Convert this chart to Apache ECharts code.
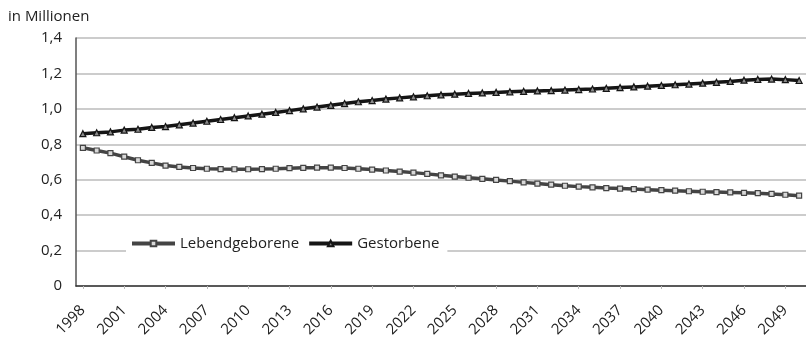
<!DOCTYPE html>
<html>
<head>
<meta charset="utf-8">
<script src="https://cdn.jsdelivr.net/npm/echarts@6/dist/echarts.min.js"></script>
<style>
  html, body { margin: 0; padding: 0; background: #fff; }
  #chart { width: 806px; height: 342px; }
</style>
</head>
<body>
<div id="chart"></div>
<script>
// Jahre 1998 - 2050
var years = [];
for (var y = 1998; y <= 2050; y++) years.push(String(y));

var lebendgeborene = [
  0.78, 0.765, 0.75, 0.73, 0.71, 0.695, 0.68, 0.672, 0.666, 0.662,
  0.66, 0.659, 0.659, 0.66, 0.662, 0.665, 0.667, 0.668, 0.668, 0.666,
  0.662, 0.657, 0.652, 0.646, 0.64, 0.633, 0.625, 0.618, 0.611, 0.605,
  0.599, 0.592, 0.585, 0.578, 0.572, 0.566, 0.561, 0.557, 0.553, 0.55,
  0.547, 0.544, 0.541, 0.538, 0.535, 0.532, 0.53, 0.528, 0.526, 0.524,
  0.52, 0.515, 0.51
];
var gestorbene = [
  0.86, 0.865, 0.87, 0.88, 0.885, 0.895, 0.9, 0.91, 0.92, 0.93,
  0.94, 0.95, 0.96, 0.97, 0.98, 0.99, 1.0, 1.01, 1.02, 1.03,
  1.04, 1.047, 1.055, 1.062, 1.068, 1.074, 1.079, 1.083, 1.087, 1.09,
  1.093, 1.096, 1.099, 1.101, 1.103, 1.106, 1.109, 1.112, 1.116, 1.12,
  1.124, 1.128, 1.132, 1.136, 1.14, 1.145, 1.15, 1.155, 1.162, 1.166,
  1.168, 1.165, 1.16
];

var chart = echarts.init(document.getElementById('chart'));
var font = 'Open Sans';

var option = {
  backgroundColor: '#fff',
  animation: false,
  title: {
    text: 'in Millionen',
    left: 3,
    top: 4,
    textStyle: { fontFamily: font, fontSize: 15, fontWeight: 'normal', color: '#222' }
  },
  legend: {
    left: 126,
    top: 231,
    padding: [5, 8, 5, 4],
    backgroundColor: '#fff',
    itemWidth: 43,
    itemHeight: 7,
    itemGap: 8,
    z: 10,
    lineStyle: { width: 4 },
    textStyle: { fontFamily: font, fontSize: 15, color: '#222' },
    data: ['Lebendgeborene', 'Gestorbene']
  },
  grid: {
    left: 76,
    top: 38,
    width: 733,
    bottom: 56
  },
  xAxis: {
    type: 'category',
    data: years,
    boundaryGap: true,
    axisLine: { lineStyle: { color: '#333', width: 1.5 } },
    axisTick: { show: true, interval: 2, alignWithLabel: true, length: 3, lineStyle: { color: '#bbb' } },
    axisLabel: {
      interval: 2,
      rotate: 45,
      margin: 22,
      fontFamily: font,
      fontSize: 15,
      color: '#222'
    }
  },
  yAxis: {
    type: 'value',
    min: 0,
    max: 1.4,
    interval: 0.2,
    axisLine: { show: true, lineStyle: { color: '#555', width: 1.5 } },
    axisTick: { show: false },
    splitLine: { lineStyle: { color: '#bbb', width: 1.5 } },
    axisLabel: {
      margin: 14,
      fontFamily: font,
      fontSize: 15,
      color: '#222',
      formatter: function (v) {
        return v === 0 ? '0' : v.toFixed(1).replace('.', ',');
      }
    }
  },
  series: [
    {
      name: 'Lebendgeborene',
      type: 'line',
      data: lebendgeborene,
      symbol: 'rect',
      symbolSize: 5,
      lineStyle: { color: '#444', width: 3.5 },
      itemStyle: { color: '#d8d8d8', borderColor: '#444', borderWidth: 1.2 }
    },
    {
      name: 'Gestorbene',
      type: 'line',
      data: gestorbene,
      symbol: 'triangle',
      symbolSize: 6,
      lineStyle: { color: '#151515', width: 3.5 },
      itemStyle: { color: '#8a8a8a', borderColor: '#151515', borderWidth: 1.2 }
    }
  ]
};

chart.setOption(option);
</script>
</body>
</html>
